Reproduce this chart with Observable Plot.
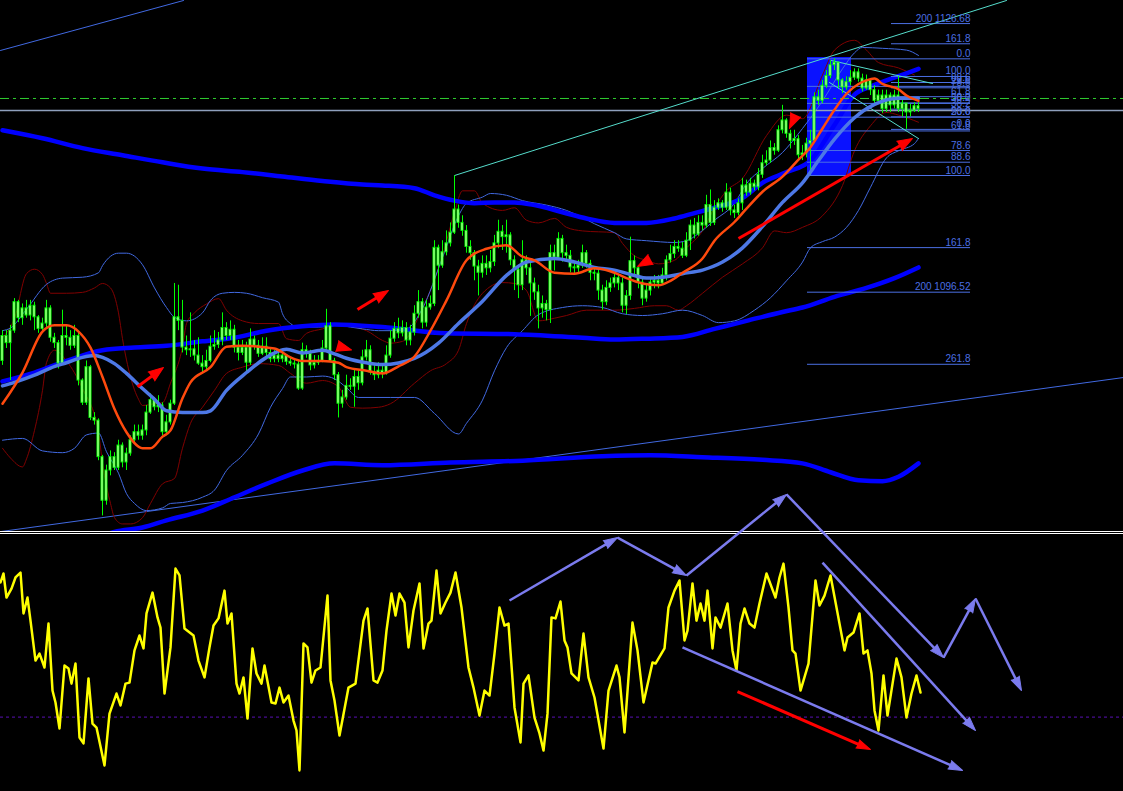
<!DOCTYPE html>
<html><head><meta charset="utf-8">
<script src="https://cdn.jsdelivr.net/npm/d3@7"></script>
<script src="https://cdn.jsdelivr.net/npm/@observablehq/plot@0.6"></script>
<style>
html,body{margin:0;padding:0;background:#000;}
#chart{position:relative;width:1123px;height:791px;background:#000;overflow:hidden;}
#upper{position:absolute;left:0;top:0;}
#lower{position:absolute;left:0;top:534px;}
.sep{position:absolute;left:0;width:1123px;height:1px;background:#fff;}
</style></head><body>
<div id="chart"><div id="upper"></div><div class="sep" style="top:531px"></div><div class="sep" style="top:533px"></div><div id="lower"></div></div>
<script>
// ---------- price candles (bar index = position in arrays) ----------
const open0 = 1088.8;
const closes = [
1091.6,1090.8,1092.2,1095.4,1093.6,1094.7,1093.9,1095.0,1093.7,1092.4,
1093.0,1094.7,1091.4,1090.8,1088.5,1091.6,1091.4,1090.5,1091.6,1086.6,
1084.1,1088.1,1082.4,1082.1,1078.0,1073.1,1076.5,1078.0,1076.8,1079.3,
1077.4,1078.4,1079.9,1080.8,1080.4,1081.0,1083.0,1084.4,1083.6,1083.8,
1080.8,1081.9,1084.0,1093.7,1093.3,1090.3,1090.0,1090.1,1089.4,1088.5,
1088.1,1088.8,1090.4,1090.6,1091.1,1092.5,1091.6,1092.3,1090.3,1089.7,
1090.3,1088.6,1091.2,1090.5,1089.6,1090.4,1089.7,1089.0,1089.4,1089.0,
1089.4,1088.7,1088.5,1088.4,1085.7,1090.0,1089.6,1088.3,1088.6,1088.8,
1090.2,1092.7,1088.8,1087.2,1084.0,1084.7,1086.0,1085.9,1087.0,1086.3,
1089.2,1090.0,1087.5,1087.2,1087.7,1087.4,1089.4,1091.3,1092.4,1091.9,
1092.5,1091.1,1092.0,1094.1,1095.4,1093.1,1094.8,1095.2,1101.5,1099.5,
1101.0,1102.0,1103.2,1105.8,1104.3,1103.4,1101.6,1100.9,1099.4,1098.7,
1099.7,1099.2,1099.9,1102.0,1103.3,1102.7,1102.9,1100.1,1099.0,1097.3,
1100.1,1099.2,1097.5,1096.5,1094.7,1095.2,1094.5,1100.9,1100.4,1102.5,
1100.9,1100.6,1099.3,1099.2,1099.5,1100.9,1099.7,1098.7,1098.6,1096.7,
1095.4,1097.0,1097.5,1098.1,1097.5,1095.0,1096.1,1100.0,1099.2,1097.6,
1095.8,1096.7,1097.6,1097.8,1097.5,1098.4,1100.1,1100.8,1101.6,1101.4,
1100.6,1102.3,1104.0,1103.0,1104.3,1104.0,1106.3,1104.3,1106.0,1106.5,
1106.0,1107.7,1105.7,1105.4,1106.5,1108.5,1107.7,1108.7,1108.3,1109.7,
1111.0,1111.3,1112.7,1112.4,1114.7,1115.8,1114.3,1113.5,1113.7,1111.9,
1112.1,1113.2,1113.5,1118.4,1118.0,1119.7,1120.8,1122.0,1122.3,1120.3,
1119.5,1120.1,1120.6,1121.2,1120.5,1119.4,1120.3,1119.2,1118.0,1118.6,
1117.1,1118.6,1117.5,1118.6,1117.1,1117.7,1116.7,1116.9,1117.4,1117.1];
const highs = [
1092.2,1092.2,1092.8,1095.8,1095.6,1095.2,1095.6,1095.6,1095.4,1093.9,
1093.6,1095.6,1095.0,1091.9,1091.1,1094.5,1092.8,1092.2,1092.8,1092.0,
1086.8,1088.8,1088.3,1083.0,1082.3,1078.2,1077.1,1078.7,1078.5,1079.9,
1079.6,1079.0,1080.4,1081.6,1081.6,1081.6,1083.8,1085.1,1084.7,1084.9,
1084.1,1082.7,1084.4,1097.5,1097.3,1095.6,1091.6,1094.2,1091.1,1091.4,
1089.4,1090.0,1091.6,1092.2,1092.0,1094.2,1093.1,1093.3,1092.8,1091.1,
1091.1,1090.9,1092.4,1091.6,1091.1,1091.4,1091.4,1090.2,1090.0,1090.0,
1090.0,1089.4,1089.1,1089.0,1088.8,1090.8,1090.5,1090.0,1089.4,1089.4,
1091.1,1094.6,1093.1,1089.1,1087.5,1085.5,1087.2,1086.8,1087.9,1087.7,
1090.0,1091.1,1090.5,1088.3,1088.6,1088.3,1090.5,1092.2,1093.1,1093.6,
1093.3,1093.1,1092.8,1095.0,1096.7,1095.8,1095.6,1096.1,1102.3,1101.8,
1102.3,1103.4,1104.3,1109.6,1106.3,1105.1,1104.0,1102.3,1101.2,1100.1,
1100.6,1100.6,1101.2,1102.9,1104.6,1104.0,1104.6,1103.2,1100.6,1099.5,
1102.3,1100.6,1100.3,1098.1,1097.3,1096.1,1095.6,1101.8,1101.8,1103.2,
1102.9,1101.8,1101.2,1099.9,1100.1,1101.8,1101.2,1100.1,1099.2,1099.0,
1097.3,1097.8,1098.1,1098.7,1098.4,1098.1,1096.7,1102.7,1100.6,1099.5,
1098.1,1097.3,1098.1,1098.4,1098.4,1099.2,1100.6,1101.8,1102.3,1102.3,
1102.1,1103.2,1104.6,1104.8,1105.1,1105.1,1107.4,1108.0,1106.8,1107.0,
1106.8,1108.7,1108.2,1106.3,1107.0,1109.3,1109.1,1109.3,1109.1,1110.4,
1111.9,1112.4,1113.5,1113.2,1115.2,1117.5,1116.0,1114.7,1114.7,1114.1,
1113.0,1113.8,1114.7,1118.9,1119.2,1120.3,1121.4,1122.5,1122.72,1122.0,
1120.5,1120.7,1121.4,1121.6,1121.6,1121.0,1120.9,1120.5,1119.7,1119.2,
1119.2,1119.2,1118.9,1119.2,1120.74,1118.3,1117.5,1117.6,1117.8,1117.8];
const lows = [
1088.3,1090.2,1086.6,1091.9,1093.1,1092.8,1093.6,1093.3,1092.2,1091.9,
1092.0,1092.4,1090.9,1090.2,1087.9,1088.3,1090.5,1090.0,1090.2,1086.0,
1083.8,1083.8,1082.1,1081.6,1077.6,1071.4,1072.6,1075.9,1076.5,1076.5,
1076.8,1076.5,1078.1,1079.5,1079.9,1079.9,1080.4,1082.8,1083.2,1083.0,
1080.4,1080.4,1081.6,1083.8,1092.2,1089.7,1089.4,1089.2,1088.8,1088.3,
1087.5,1087.7,1088.6,1090.0,1090.2,1090.5,1091.1,1091.1,1089.7,1088.8,
1089.4,1087.4,1088.3,1090.0,1089.2,1089.4,1089.3,1088.6,1088.6,1088.6,
1088.6,1088.3,1088.2,1087.9,1085.5,1085.5,1089.1,1087.7,1087.9,1088.3,
1088.6,1090.0,1088.6,1086.6,1082.4,1083.5,1084.4,1085.5,1083.6,1085.5,
1086.0,1088.8,1087.2,1086.6,1086.8,1086.8,1087.2,1089.1,1090.9,1091.3,
1091.5,1090.5,1090.5,1091.6,1093.6,1092.4,1092.6,1094.5,1094.9,1096.7,
1099.2,1100.6,1101.6,1103.0,1103.7,1102.8,1100.9,1100.1,1097.8,1096.1,
1098.1,1098.4,1098.7,1099.4,1101.4,1101.2,1100.9,1099.5,1096.7,1095.8,
1096.7,1098.4,1093.8,1095.6,1092.4,1093.6,1093.3,1093.0,1098.9,1100.1,
1099.9,1100.1,1098.7,1098.4,1098.7,1099.2,1099.2,1097.8,1097.8,1095.6,
1094.5,1095.0,1096.5,1097.0,1096.7,1094.2,1094.0,1095.6,1098.4,1096.9,
1095.0,1095.4,1096.1,1096.9,1096.9,1097.3,1097.8,1099.8,1100.3,1101.0,
1100.3,1100.4,1101.2,1102.5,1102.8,1103.4,1103.7,1103.9,1104.0,1105.7,
1105.5,1105.7,1105.1,1104.8,1105.1,1105.7,1107.3,1107.4,1107.9,1107.9,
1109.3,1110.7,1111.0,1111.9,1112.2,1114.3,1113.8,1112.6,1113.0,1111.3,
1111.3,1111.6,1109.62,1113.3,1117.5,1117.7,1119.4,1120.5,1121.4,1119.4,
1118.8,1119.2,1119.7,1120.3,1120.1,1119.0,1119.2,1118.6,1117.5,1117.7,
1116.6,1116.7,1116.7,1117.1,1116.7,1116.2,1114.80,1116.2,1116.7,1116.7];

// ---------- indicator lines: [bar, price] ----------
const fastMA = [[0,1084.0],[5,1087.5],[10,1092.1],[13,1092.8],[16,1092.8],[19,1092.1],[22,1090.3],[25,1087.0],[28,1083.4],[31,1080.8],[35,1079.0],[37,1079.0],[40,1080.3],[42,1081.0],[45,1084.6],[47,1086.4],[52,1088.1],[56,1090.4],[60,1090.5],[68,1090.2],[72,1089.2],[75,1088.8],[80,1088.8],[84,1088.6],[86,1088.1],[91,1087.7],[95,1087.4],[99,1088.2],[103,1089.3],[107,1092.2],[111,1095.6],[116,1100.1],[121,1101.4],[126,1101.8],[130,1100.5],[133,1100.1],[138,1098.7],[143,1098.6],[148,1099.2],[153,1098.7],[156,1098.1],[160,1097.5],[164,1097.3],[167,1097.8],[170,1098.7],[175,1100.3],[178,1102.3],[183,1104.4],[186,1105.9],[190,1107.8],[195,1109.5],[199,1111.4],[202,1112.8],[205,1114.9],[208,1117.0],[211,1118.8],[214,1119.9],[216,1120.3],[218,1120.5],[220,1119.9],[224,1119.3],[226,1118.6],[229,1118.0]];
const midMA = [[0,1086.0],[3,1086.4],[8,1087.2],[12,1088.0],[16,1088.6],[20,1089.2],[23,1089.4],[25,1089.2],[28,1088.5],[31,1087.4],[35,1085.7],[38,1084.5],[41,1083.2],[45,1083.0],[50,1083.0],[52,1083.2],[56,1085.5],[61,1087.5],[66,1089.2],[71,1090.1],[75,1089.7],[80,1090.0],[83,1089.6],[86,1089.1],[91,1088.6],[95,1088.4],[103,1089.1],[109,1090.8],[114,1093.0],[120,1095.5],[126,1098.4],[131,1099.9],[138,1100.3],[143,1099.9],[148,1099.3],[153,1099.0],[158,1098.4],[161,1098.1],[165,1098.2],[170,1098.6],[175,1099.0],[180,1099.9],[185,1101.5],[190,1103.9],[195,1106.6],[200,1108.8],[204,1111.3],[208,1113.7],[213,1116.1],[218,1117.6],[224,1118.3],[229,1118.3]];
const envUpper = [[0,1114.7],[10,1113.8],[20,1112.7],[30,1111.9],[40,1111.1],[50,1110.4],[60,1110.0],[70,1109.5],[80,1109.0],[90,1108.6],[95,1108.5],[103,1108.2],[108,1107.4],[113,1106.8],[118,1106.5],[123,1106.6],[128,1106.6],[133,1106.3],[140,1105.5],[146,1104.8],[153,1104.3],[161,1104.3],[168,1104.8],[173,1105.4],[178,1106.0],[185,1107.1],[190,1108.8],[196,1110.0],[202,1111.3],[208,1115.3],[213,1118.7],[217,1119.6],[221,1120.3],[226,1121.1],[229,1121.6]];
const envMid = [[0,1086.5],[8,1087.5],[16,1088.8],[25,1090.0],[33,1090.3],[41,1090.5],[50,1091.0],[58,1091.4],[66,1092.2],[75,1092.7],[83,1092.9],[95,1092.6],[111,1091.9],[128,1091.8],[145,1091.4],[153,1091.2],[161,1091.3],[170,1091.5],[178,1092.4],[186,1093.3],[195,1094.3],[200,1094.8],[208,1096.0],[216,1097.0],[223,1098.1],[229,1099.3]];
const envLower = [[25,1069.2],[28,1069.6],[35,1070.1],[41,1070.9],[50,1072.0],[58,1073.5],[66,1075.0],[75,1076.5],[83,1077.3],[95,1077.1],[112,1077.4],[130,1077.6],[150,1078.1],[162,1078.2],[175,1078.0],[190,1077.7],[200,1077.3],[207,1076.3],[214,1075.4],[220,1075.3],[224,1075.8],[229,1077.3]];
const bandRedUp = [[0,1091.4],[3,1093.6],[6,1098.6],[8,1099.1],[10,1098.5],[11,1097.5],[12,1096.4],[16,1096.4],[20,1096.5],[23,1097.0],[25,1097.5],[27,1097.0],[29,1094.2],[30,1091.3],[32,1087.0],[34,1084.5],[35,1083.8],[38,1084.0],[40,1084.1],[42,1086.3],[45,1090.4],[46,1093.0],[48,1094.2],[51,1095.2],[54,1095.8],[56,1094.5],[60,1093.3],[64,1093.0],[69,1093.0],[71,1091.3],[74,1091.1],[76,1091.9],[80,1092.4],[83,1092.8],[88,1092.6],[91,1092.2],[95,1091.1],[97,1090.8],[100,1091.0],[105,1094.7],[110,1100.6],[113,1105.5],[115,1107.9],[118,1107.9],[120,1106.5],[125,1105.7],[128,1106.0],[131,1104.6],[134,1104.3],[138,1104.8],[141,1103.8],[145,1103.4],[153,1103.2],[155,1102.0],[158,1100.6],[161,1100.1],[164,1099.7],[168,1100.1],[171,1101.5],[175,1103.4],[178,1106.0],[181,1107.9],[185,1109.3],[191,1114.1],[196,1116.4],[200,1116.0],[205,1120.9],[208,1123.7],[213,1124.8],[216,1123.7],[219,1122.3],[224,1121.7],[228,1120.9]];
const bandRedLow = [[0,1079.0],[2,1077.9],[5,1076.9],[6,1077.8],[8,1081.0],[10,1085.5],[11,1088.6],[13,1090.0],[16,1088.8],[20,1085.7],[24,1080.8],[25,1077.3],[27,1072.8],[28,1071.2],[30,1070.5],[32,1070.5],[35,1071.2],[37,1072.8],[40,1075.0],[43,1075.6],[45,1079.0],[47,1081.8],[50,1083.6],[53,1085.5],[56,1087.4],[60,1088.1],[64,1088.5],[69,1088.3],[72,1087.4],[76,1086.3],[80,1086.6],[84,1085.9],[87,1083.6],[90,1083.5],[94,1083.6],[97,1084.0],[103,1086.3],[107,1087.7],[111,1088.5],[114,1090.0],[116,1093.0],[120,1096.4],[125,1097.6],[128,1097.5],[131,1096.7],[134,1093.3],[138,1093.6],[141,1093.9],[146,1094.5],[153,1094.5],[158,1094.7],[163,1095.0],[166,1095.0],[169,1094.5],[171,1095.0],[175,1096.4],[180,1098.2],[185,1099.7],[190,1101.5],[193,1103.4],[196,1103.2],[200,1103.8],[205,1105.1],[210,1108.5],[213,1112.4],[217,1115.2],[221,1116.7],[224,1116.4],[229,1115.6]];
const bandBlueUp = [[0,1092.2],[2,1092.5],[6,1094.6],[11,1097.4],[15,1098.1],[20,1098.2],[24,1098.7],[25,1099.5],[29,1100.9],[31,1100.9],[35,1099.6],[38,1097.0],[41,1094.8],[43,1093.7],[46,1093.3],[50,1094.2],[52,1095.6],[55,1096.4],[58,1096.5],[61,1096.4],[65,1095.9],[69,1095.4],[70,1094.1],[72,1093.0],[74,1092.6],[79,1092.6],[84,1092.8],[87,1092.6],[90,1092.4],[94,1092.2],[97,1092.2],[101,1092.4],[105,1094.7],[110,1100.4],[114,1105.1],[116,1106.5],[120,1107.2],[122,1107.6],[126,1107.4],[130,1106.8],[136,1106.3],[141,1105.7],[145,1104.9],[148,1104.2],[153,1103.2],[156,1102.5],[161,1102.3],[168,1102.1],[171,1102.3],[174,1103.1],[178,1104.6],[183,1106.5],[186,1108.7],[190,1110.4],[195,1112.2],[200,1114.9],[205,1118.0],[210,1121.6],[213,1123.4],[215,1124.0],[220,1123.9],[226,1123.7],[229,1123.1]];
const bandBlueLow = [[0,1079.9],[5,1080.1],[10,1078.7],[15,1078.5],[18,1079.0],[21,1080.5],[24,1080.7],[26,1078.6],[29,1076.2],[31,1073.9],[33,1072.8],[36,1072.0],[40,1072.3],[42,1072.8],[45,1072.9],[50,1073.5],[53,1074.3],[56,1076.5],[60,1078.2],[64,1080.6],[67,1083.6],[70,1085.7],[72,1087.0],[76,1087.0],[80,1087.1],[83,1086.8],[86,1085.8],[89,1084.7],[97,1084.7],[103,1084.7],[108,1082.9],[114,1080.6],[116,1081.8],[120,1084.4],[123,1087.7],[126,1090.3],[130,1092.2],[134,1094.0],[140,1094.8],[145,1095.0],[150,1094.8],[155,1094.1],[160,1093.9],[165,1094.1],[170,1094.5],[175,1093.9],[179,1093.1],[183,1093.3],[188,1094.5],[192,1095.9],[196,1097.8],[200,1099.9],[202,1101.5],[205,1102.2],[208,1102.7],[211,1103.8],[214,1105.7],[217,1108.3],[221,1111.6],[224,1112.4],[228,1113.2],[229,1113.8]];

// ---------- drawn objects ----------
const blueTrends = [[[-0.5,1123.66],[45.25,1129.27]], [[-0.5,1069.64],[280.25,1086.94]]];
const cyanTrends = [[[113,1109.62],[251,1129.27]], [[207.25,1122.53],[232.5,1119.95]], [[206.75,1120.06],[229,1113.77]]];
const greenLevel = 1118.27;
const grayLevel = 1116.92;
const boxBars = [201.25, 212.25];
const boxPrices = [1109.62, 1122.87];
const fib1 = {high: 1122.72, low: 1109.62, from: 201.25, to: 242};
const fib1Levels = [0, 23.6, 38.2, 50, 61.8, 78.6, 88.6, 100, 161.8, 200, 261.8];
const fib1Labels = ["0.0","23.6","38.2","50.0","61.8","78.6","88.6","100.0","161.8","200 1096.52","261.8"];
const fib2 = {low: 1114.80, high: 1120.74, from: 222.25, to: 242};
const fib2Levels = [0, 23.6, 38.2, 50, 61.8, 78.6, 88.6, 100, 161.8, 200];
const fib2Labels = ["0.0","23.6","38.2","50.0","61.8","78.6","88.6","100.0","161.8","200 1126.68"];
const redArrows = [
  {x1:33.75,y1:1085.9,x2:40.25,y2:1088.06},
  {x1:88.75,y1:1094.57,x2:96.5,y2:1096.71},
  {x1:184,y1:1102.54,x2:227.5,y2:1113.77}];
const redHeads = [
  {x1:83.9,y1:1090.44,x2:87.25,y2:1090.03},
  {x1:162,y1:1100.19,x2:158.75,y2:1099.40},
  {x1:198,y1:1116.13,x2:196.75,y2:1114.9}];

// ---------- oscillator panel ----------
const osc = [
[-0.5,84.3],[0.25,87.9],[1,78.2],[2.25,81.8],[3.25,86.3],[4.5,88.3],[5.25,71.8],[6.25,78.2],[7,68.9],[8.25,52.8],
[9.25,55.6],[10.5,50.0],[11.5,67.7],[12.5,40.7],[13.25,35.9],[14.25,25.4],[15.5,50.8],[16.5,49.6],[17.25,43.5],[18.25,51.6],
[19.25,21.8],[20.25,19.4],[21.5,45.6],[22.5,27.4],[23.5,25.8],[25.5,10.5],[26.75,31.4],[28.5,39.5],[29.5,34.7],[30.75,43.5],
[31.75,43.9],[33,56.9],[34.25,62.9],[35.25,57.7],[36,71.8],[37.5,80.2],[38.75,70.2],[39.5,66.1],[40.5,39.5],[42,58.1],
[43.25,89.9],[44.25,87.1],[45.5,65.7],[47.75,62.9],[49,52.8],[50.5,46.0],[51.75,58.1],[52.75,66.9],[54,69.8],[55.5,81.0],
[56.25,67.7],[57.25,71.8],[58.5,43.5],[59.25,39.5],[60.25,46.0],[61.25,29.4],[62.5,57.7],[63.5,47.6],[64.75,43.5],[65.5,50.8],
[67.25,35.9],[68.25,35.5],[69.25,41.9],[70.25,35.9],[71.5,38.7],[72.75,28.6],[73.5,24.6],[74.25,8.5],[75.25,59.7],[76.25,58.1],
[77.25,43.9],[78.25,48.8],[79.5,50.0],[81.25,79.0],[82,44.8],[83,36.7],[84.25,22.6],[85.75,35.5],[86.5,41.9],[88.25,43.5],
[90.25,68.9],[91.25,73.8],[92.75,44.8],[93.75,43.9],[95,48.8],[96,64.9],[97.25,79.8],[98.25,71.0],[99.25,79.8],[100.5,76.2],
[101.5,58.1],[102.75,73.0],[104.25,83.9],[105.25,57.7],[106.5,67.7],[107.25,68.9],[108.5,89.1],[109.5,71.8],[110.75,76.2],[112,80.2],
[113.25,88.3],[114.75,74.2],[116.5,50.0],[117.75,41.9],[119.25,30.6],[120.5,40.7],[121.75,38.7],[123,55.6],[124.25,74.2],[125.5,66.9],
[126.5,67.7],[128,33.9],[129.5,19.8],[130.25,43.5],[131.5,46.8],[133,29.8],[134.25,23.4],[135.25,16.5],[136.25,31.4],[137.25,70.2],
[138.25,69.8],[139.5,76.6],[140.5,60.9],[141.25,58.1],[142.25,47.6],[144,44.8],[145.25,63.7],[146.5,46.0],[148,37.9],[150.25,17.3],
[151.5,40.7],[153.5,50.8],[154.25,46.0],[155.5,23.8],[157.5,68.1],[158.75,56.9],[160.25,35.9],[162.5,52.0],[163.25,51.6],[165.5,57.7],
[166.5,74.2],[168,81.0],[169.25,85.1],[170.5,60.9],[171.25,64.9],[172.5,83.9],[173.5,68.9],[174.5,75.8],[175.5,68.9],[176.25,81.0],
[177.5,57.7],[178.25,70.2],[179.5,66.1],[181.25,75.8],[182.5,56.9],[183.5,48.8],[184.5,67.7],[185.5,73.8],[186.75,67.7],[188,66.1],
[189.25,75.8],[191,87.9],[193.25,78.2],[194.25,86.3],[195.25,91.9],[196.5,74.2],[197.5,56.9],[198.25,55.6],[199.5,40.7],[201.5,51.6],
[203.25,85.1],[204.25,75.0],[205.5,79.0],[207,87.1],[208.5,74.2],[210.5,56.9],[211.25,62.1],[212.75,64.1],[214.25,71.8],[215.25,55.6],
[216.25,56.9],[217.25,47.6],[218,32.7],[219,24.6],[220.25,46.8],[221.25,30.6],[223.5,53.6],[224.75,46.0],[226,29.8],[227.25,39.5],
[228.5,46.8],[229.5,39.9]];
const oscLevel = 30;
const waveVertices = [[126.75,77.0],[153.75,102.4],[171,87.1],[196,119.8],[235.25,54.0],[243.25,77.8],[254.75,40.7]];
const oscLines = [
  {x1:205,y1:92.3,x2:243.25,y2:24.6},
  {x1:170,y1:58.1,x2:240,y2:8.5}];
const oscRed = [{x1:183.75,y1:40.3,x2:217,y2:16.9}];

// ---------- layout ----------
const W = 1123, HU = 531, HL = 257, LTOP = 9;
const xDomain = [-0.5, 280.25];
const yDomainU = [1069.65, 1129.27];
const xS = Plot.scale({x: {type: "linear", domain: xDomain, range: [0, W]}});
const yU = Plot.scale({y: {type: "linear", domain: yDomainU, range: [HU, 0]}});
const yL = Plot.scale({y: {type: "linear", domain: [0, 100], range: [HL, LTOP]}});

function prep(list, ys, back) {
  return list.map(a => {
    const X1 = xS.apply(a.x1), Y1 = ys.apply(a.y1), X2 = xS.apply(a.x2), Y2 = ys.apply(a.y2);
    const dx = X2 - X1, dy = Y2 - Y1, L = Math.hypot(dx, dy) || 1;
    return {...a, ex: xS.invert(X2 - dx / L * back), ey: ys.invert(Y2 - dy / L * back),
            angle: Math.atan2(dx, -dy) * 180 / Math.PI};
  });
}

const candles = closes.map((c, i) => {
  const o = i === 0 ? open0 : closes[i - 1];
  return {i, o, c, h: Math.max(highs[i], o, c), l: Math.min(lows[i], o, c)};
});
const toRows = (arr, key) => arr.map(([b, v]) => ({b, v, key}));
const fibRows = [
  ...fib1Levels.map((lv, k) => ({p: fib1.high - (fib1.high - fib1.low) * lv / 100, x1: fib1.from, x2: fib1.to, label: fib1Labels[k]})),
  ...fib2Levels.map((lv, k) => ({p: fib2.low + (fib2.high - fib2.low) * lv / 100, x1: fib2.from, x2: fib2.to, label: fib2Labels[k]}))];

const redA = prep(redArrows, yU, 9);
const redH = prep(redHeads, yU, 0);
const FIB = "#4b6fe3";
const lineOf = (arr, opts) => Plot.line(toRows(arr), {x: "b", y: "v", curve: "monotone-x", ...opts});

const upper = Plot.plot({
  width: W, height: HU, margin: 0,
  style: {background: "#000", overflow: "hidden"},
  x: {domain: xDomain, axis: null},
  y: {domain: yDomainU, axis: null},
  marks: [
    Plot.rect([0], {x1: boxBars[0], x2: boxBars[1], y1: boxPrices[0], y2: boxPrices[1], fill: "#0a12ff"}),
    ...blueTrends.map(t => Plot.line(t, {x: d => d[0], y: d => d[1], stroke: "#4169e1", strokeWidth: 1})),
    lineOf(bandRedUp, {stroke: "#800000", strokeWidth: 1}),
    lineOf(bandRedLow, {stroke: "#800000", strokeWidth: 1}),
    lineOf(bandBlueUp, {stroke: "#4169e1", strokeWidth: 1}),
    lineOf(bandBlueLow, {stroke: "#4169e1", strokeWidth: 1}),
    lineOf(envUpper, {stroke: "#0000ff", strokeWidth: 4.5}),
    lineOf(envMid, {stroke: "#0000ff", strokeWidth: 4.5}),
    lineOf(envLower, {stroke: "#0000ff", strokeWidth: 4.5}),
    Plot.ruleY(fibRows, {y: "p", x1: "x1", x2: "x2", stroke: FIB, strokeWidth: 1}),
    Plot.ruleY([grayLevel], {stroke: "#8fa0bd", strokeWidth: 1.5}),
    Plot.ruleY([greenLevel], {stroke: "#2fcc2f", strokeWidth: 1, strokeDasharray: "9,4,3,4"}),
    ...cyanTrends.map(t => Plot.line(t, {x: d => d[0], y: d => d[1], stroke: "#55dccb", strokeWidth: 1})),
    Plot.ruleX(candles, {x: "i", y1: "l", y2: "h", stroke: "#00ff00", strokeWidth: 1}),
    Plot.rect(candles, {x1: d => d.i - 0.25, x2: d => d.i + 0.25, y1: "o", y2: "c", fill: "#e8ffc0", stroke: "#00ff00", strokeWidth: 1}),
    lineOf(midMA, {stroke: "#4d78e6", strokeWidth: 3.5}),
    lineOf(fastMA, {stroke: "#ff4a0d", strokeWidth: 2.5}),
    Plot.link(redA, {x1: "x1", y1: "y1", x2: "ex", y2: "ey", stroke: "#ff0000", strokeWidth: 3}),
    Plot.vector([...redA, ...redH], {x: "x2", y: "y2", rotate: "angle", length: 15, r: 5.5, shape: "spike", anchor: "end", fill: "#ff0000", stroke: "#ff0000", strokeWidth: 1}),
    Plot.text(fibRows, {x: "x2", y: "p", text: "label", textAnchor: "end", lineAnchor: "bottom", dy: -2, fill: FIB, fontSize: 10, fontFamily: "Liberation Sans, Arial, sans-serif"})
  ]
});
document.getElementById("upper").appendChild(upper);

const waveArrows = waveVertices.slice(1).map((v, k) => ({x1: waveVertices[k][0], y1: waveVertices[k][1], x2: v[0], y2: v[1]}));
const lav = prep([...waveArrows, ...oscLines], yL, 8);
const redL = prep(oscRed, yL, 8);
const oscRows = osc.map(([b, v]) => ({b, v}));

const lower = Plot.plot({
  width: W, height: HL, marginTop: LTOP, marginBottom: 0, marginLeft: 0, marginRight: 0,
  style: {background: "transparent", overflow: "visible"},
  x: {domain: xDomain, axis: null},
  y: {domain: [0, 100], axis: null},
  marks: [
    Plot.ruleY([oscLevel], {stroke: "#5a10b4", strokeWidth: 1, strokeDasharray: "3,3"}),
    Plot.line(oscRows, {x: "b", y: "v", stroke: "#ffff00", strokeWidth: 2.5}),
    Plot.link(lav, {x1: "x1", y1: "y1", x2: "ex", y2: "ey", stroke: "#7b7bee", strokeWidth: 2.5}),
    Plot.vector(lav, {x: "x2", y: "y2", rotate: "angle", length: 14, r: 4.5, shape: "spike", anchor: "end", fill: "#7b7bee", stroke: "#7b7bee", strokeWidth: 1}),
    Plot.link(redL, {x1: "x1", y1: "y1", x2: "ex", y2: "ey", stroke: "#ff0000", strokeWidth: 3}),
    Plot.vector(redL, {x: "x2", y: "y2", rotate: "angle", length: 14, r: 4.5, shape: "spike", anchor: "end", fill: "#ff0000", stroke: "#ff0000", strokeWidth: 1})
  ]
});
document.getElementById("lower").appendChild(lower);
</script>
</body></html>
